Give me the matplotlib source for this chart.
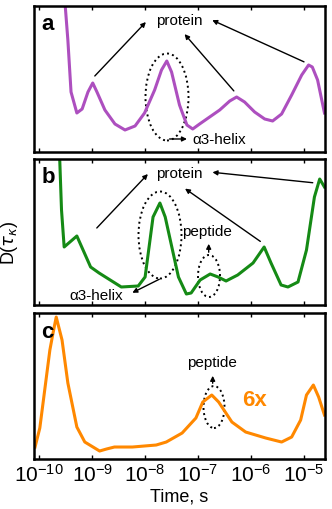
import numpy as np
import matplotlib.pyplot as plt
from matplotlib.patches import Ellipse

plt.rcParams['font.family'] = ['Liberation Sans', 'DejaVu Sans']

# Data: log10(time / s) and D(tau) in arbitrary units
logt_a = [-9.53, -9.46, -9.40, -9.29, -9.19, -9.08, -8.99, -8.91, -8.76, -8.57,
          -8.38, -8.19, -8.01, -7.82, -7.69, -7.59, -7.50, -7.35, -7.21, -7.10,
          -6.97, -6.78, -6.59, -6.40, -6.27, -6.12, -5.93, -5.74, -5.59, -5.42,
          -5.23, -5.04, -4.91, -4.84, -4.74, -4.61]
d_a = [160, 112, 60, 39, 43, 60, 69, 60, 42, 28,
       22, 26, 39, 62, 82, 91, 80, 47, 27, 23,
       28, 35, 42, 51, 55, 50, 40, 33, 31, 38,
       57, 77, 87, 85, 72, 39]

logt_b = [-9.62, -9.58, -9.53, -9.29, -9.03, -8.87, -8.45, -8.13, -8.00, -7.85,
          -7.72, -7.62, -7.37, -7.22, -7.13, -6.96, -6.77, -6.62, -6.47, -6.25,
          -5.96, -5.75, -5.62, -5.43, -5.30, -5.11, -4.95, -4.80, -4.70, -4.61]
d_b = [155, 95, 58, 69, 38, 32, 18, 19, 28, 88,
       102, 88, 28, 11, 12, 25, 31, 28, 24, 30,
       42, 58, 42, 20, 18, 23, 55, 108, 126, 118]

logt_c = [-10.08, -9.99, -9.80, -9.74, -9.68, -9.57, -9.46, -9.29, -9.14, -8.86,
          -8.73, -8.58, -8.24, -7.79, -7.60, -7.30, -7.04, -6.91, -6.74, -6.61,
          -6.36, -6.10, -5.72, -5.42, -5.23, -5.06, -4.95, -4.82, -4.72, -4.61]
d_c = [12, 31, 109, 126, 142, 119, 76, 32, 17, 8,
       10, 12, 12, 14, 17, 26, 41, 57, 64, 57,
       37, 27, 21, 17, 22, 39, 64, 74, 62, 44]

colors = ['#ad4fbf', '#158a15', '#ff8800']
xmin, xmax = 10**-10.1, 10**-4.6

fig = plt.figure(figsize=(3.32, 5.09), dpi=100)
pos = [[0.1024, 0.7014, 0.8765, 0.2868],
       [0.1024, 0.4008, 0.8765, 0.2868],
       [0.1024, 0.0982, 0.8765, 0.2868]]
axes = [fig.add_axes(p) for p in pos]

for ax, lt, d, c, lab in zip(axes, [logt_a, logt_b, logt_c], [d_a, d_b, d_c],
                             colors, ['a', 'b', 'c']):
    ax.plot(10**np.array(lt), d, color=c, lw=2.2)
    ax.set_xscale('log')
    ax.set_xlim(xmin, xmax)
    ax.set_ylim(0, 146)
    ax.set_yticks([])
    ax.set_xticks([1e-10, 1e-9, 1e-8, 1e-7, 1e-6, 1e-5])
    ax.minorticks_off()
    ax.tick_params(axis='x', direction='in', top=True, length=3, width=1,
                   labelsize=15)
    for s in ax.spines.values():
        s.set_linewidth(1.8)
    ax.text(0.025, 0.87, lab, transform=ax.transAxes, fontsize=16,
            fontweight='bold', va='center', ha='left')

axes[0].tick_params(labelbottom=False)
axes[1].tick_params(labelbottom=False)
axes[2].set_xlabel('Time, s', fontsize=13, labelpad=2)
fig.text(0.03, 0.523, r'D($\tau_\kappa$)', rotation=90, fontsize=13,
         ha='center', va='center')

arr = dict(arrowstyle='-|>', color='black', lw=1, mutation_scale=7)
tk = dict(fontsize=11, ha='center', va='center')


def T(x):
    return 10**(-10 + (x - 39.3) / 53.0)


# panel a
ax = axes[0]
ax.text(T(180), 131, 'protein', **tk)
ax.annotate('', xy=(T(148), 132), xytext=(T(93), 74), arrowprops=arr)
ax.annotate('', xy=(T(183), 120), xytext=(T(236), 59), arrowprops=arr)
ax.annotate('', xy=(T(210), 133), xytext=(T(307), 89), arrowprops=arr)
ax.add_patch(Ellipse((133 / 291, 55 / 146), 43 / 291, 87 / 146,
                     transform=ax.transAxes, fill=False, ls=':', lw=1.4))
ax.annotate('', xy=(T(190), 13), xytext=(T(167), 13), arrowprops=arr)
ax.text(T(193), 12, r'α3-helix', fontsize=11, ha='left', va='center')

# panel b
ax = axes[1]
ax.text(T(180), 131, 'protein', **tk)
ax.annotate('', xy=(T(150), 133), xytext=(T(95), 75), arrowprops=arr)
ax.annotate('', xy=(T(183), 118), xytext=(T(263), 62), arrowprops=arr)
ax.annotate('', xy=(T(210), 133), xytext=(T(316), 122), arrowprops=arr)
ax.add_patch(Ellipse((126 / 291, 70 / 146), 43 / 291, 87 / 146,
                     transform=ax.transAxes, fill=False, ls=':', lw=1.4))
ax.annotate('', xy=(T(130), 11), xytext=(T(162), 27), arrowprops=arr)
ax.text(T(96), 9, r'α3-helix', **tk)
ax.text(T(207), 73, 'peptide', **tk)
ax.add_patch(Ellipse((175 / 291, 29 / 146), 22 / 291, 42 / 146,
                     transform=ax.transAxes, fill=False, ls=':', lw=1.4))
ax.annotate('', xy=(T(209), 64), xytext=(T(209), 50), arrowprops=arr)

# panel c
ax = axes[2]
ax.text(T(212), 96, 'peptide', **tk)
ax.add_patch(Ellipse((180 / 291, 52 / 146), 21 / 291, 42 / 146,
                     transform=ax.transAxes, fill=False, ls=':', lw=1.4))
ax.annotate('', xy=(T(213), 86), xytext=(T(213), 73), arrowprops=arr)
ax.text(T(255), 59, '6x', color=colors[2], fontsize=16, fontweight='bold',
        ha='center', va='center')

fig.savefig('out.png', dpi=100)
